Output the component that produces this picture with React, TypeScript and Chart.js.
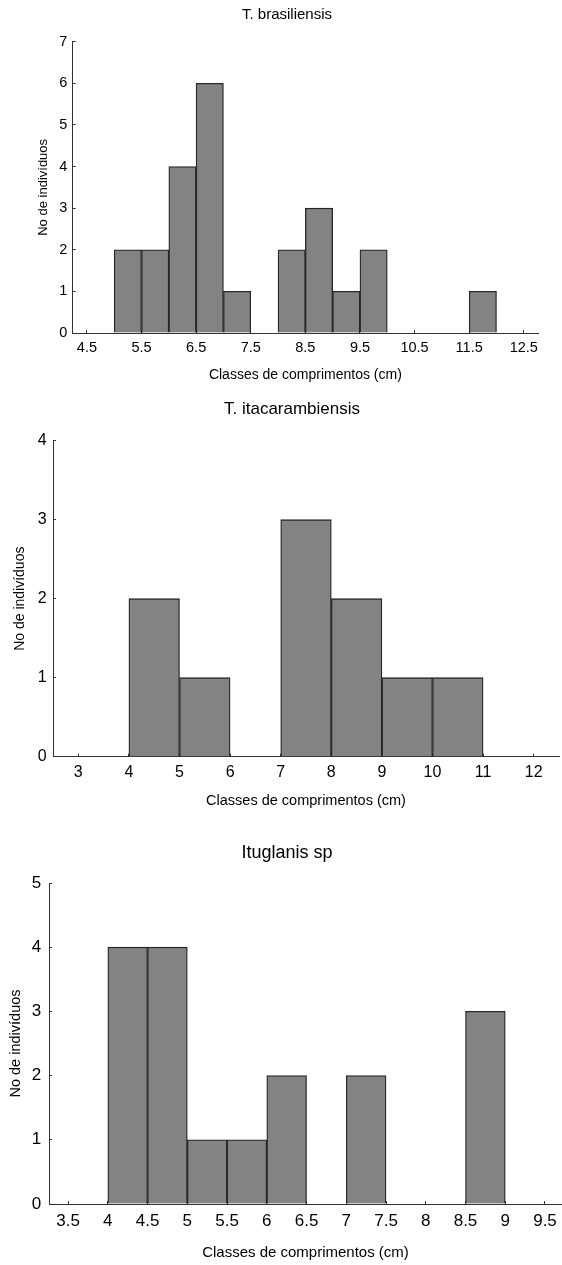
import React, { useEffect, useRef } from "react";
import { Chart, registerables } from "chart.js";

Chart.register(...registerables);

const FONT = "'Liberation Sans', Arial, Helvetica, sans-serif";

// ---- data ----
const X_TITLE = "Classes de comprimentos (cm)";
const Y_TITLE = "No de indivíduos";

const BRAS_TITLE = "T. brasiliensis";
const BRAS_BIN_MIDS = [5.25, 5.75, 6.25, 6.75, 7.25, 7.75, 8.25, 8.75, 9.25, 9.75, 10.25, 10.75, 11.25, 11.75];
const BRAS_COUNTS = [2, 2, 4, 6, 1, 0, 2, 3, 1, 2, 0, 0, 0, 1];
const BRAS_X_TICKS = [4.5, 5.5, 6.5, 7.5, 8.5, 9.5, 10.5, 11.5, 12.5];
const BRAS_Y_MAX = 7;

const ITAC_TITLE = "T. itacarambiensis";
const ITAC_BIN_MIDS = [4.5, 5.5, 6.5, 7.5, 8.5, 9.5, 10.5];
const ITAC_COUNTS = [2, 1, 0, 3, 2, 1, 1];
const ITAC_X_TICKS = [3, 4, 5, 6, 7, 8, 9, 10, 11, 12];
const ITAC_Y_MAX = 4;

const ITUG_TITLE = "Ituglanis sp";
const ITUG_BIN_MIDS = [4.25, 4.75, 5.25, 5.75, 6.25, 6.75, 7.25, 7.75, 8.25, 8.75];
const ITUG_COUNTS = [4, 4, 1, 1, 2, 0, 2, 0, 0, 3];
const ITUG_X_TICKS = [3.5, 4, 4.5, 5, 5.5, 6, 6.5, 7, 7.5, 8, 8.5, 9, 9.5];
const ITUG_Y_MAX = 5;

// ---- styles ----
const BAR_FILL = "#838383";
const BAR_EDGE = "#262626";
const AXIS_COLOR = "#333333";
const TEXT_COLOR = "#000000";
const TICK_LEN = -3; // inward tick marks

type Spec = {
  title: string;
  mids: number[];
  counts: number[];
  xTicks: number[];
  yMax: number;
  top: number;
  height: number;
  xMin: number;
  xMax: number;
  padL: number;
  yWidth: number;
  rightW: number;
  xHeight: number;
  titleSize: number;
  titlePadTop: number;
  titlePadBottom: number;
  tickSize: number;
  xTickPad: number;
  yTickPad: number;
  xTitleSize: number;
  xTitlePadBottom: number;
  yTitleSize: number;
  yTitlePadTop: number;
};

const SPECS: Spec[] = [
  {
    title: BRAS_TITLE, mids: BRAS_BIN_MIDS, counts: BRAS_COUNTS, xTicks: BRAS_X_TICKS, yMax: BRAS_Y_MAX,
    top: 0, height: 385, xMin: 4.24, xMax: 12.76, padL: 12, yWidth: 60.7, rightW: 24, xHeight: 52,
    titleSize: 15, titlePadTop: 6, titlePadBottom: 17.7,
    tickSize: 14.5, xTickPad: 5.8, yTickPad: 5.4,
    xTitleSize: 14, xTitlePadBottom: 1.6, yTitleSize: 13, yTitlePadTop: 23.2,
  },
  {
    title: ITAC_TITLE, mids: ITAC_BIN_MIDS, counts: ITAC_COUNTS, xTicks: ITAC_X_TICKS, yMax: ITAC_Y_MAX,
    top: 385, height: 432, xMin: 2.5, xMax: 12.5, padL: 22, yWidth: 31, rightW: 3, xHeight: 60.3,
    titleSize: 17, titlePadTop: 13.8, titlePadBottom: 21.5,
    tickSize: 16, xTickPad: 6.7, yTickPad: 6.4,
    xTitleSize: 14.5, xTitlePadBottom: 7.3, yTitleSize: 14, yTitlePadTop: -9.9,
  },
  {
    title: ITUG_TITLE, mids: ITUG_BIN_MIDS, counts: ITUG_COUNTS, xTicks: ITUG_X_TICKS, yMax: ITUG_Y_MAX,
    top: 820, height: 445, xMin: 3.26, xMax: 9.714, padL: 12, yWidth: 37, rightW: 0, xHeight: 61,
    titleSize: 18, titlePadTop: 22.2, titlePadBottom: 19.2,
    tickSize: 17, xTickPad: 6.8, yTickPad: 7.8,
    xTitleSize: 15, xTitlePadBottom: 3, yTitleSize: 14.5, yTitlePadTop: -4.7,
  },
];

function buildConfig(s: Spec): any {
  const tickGrid = {
    display: true,
    offset: false,
    drawOnChartArea: false,
    drawTicks: true,
    tickLength: TICK_LEN,
    tickWidth: 1,
    tickColor: AXIS_COLOR,
    color: AXIS_COLOR,
  };
  return {
    type: "bar",
    data: {
      datasets: [
        {
          data: s.mids.map((m, i) => ({ x: m, y: s.counts[i] })),
          backgroundColor: BAR_FILL,
          borderColor: BAR_EDGE,
          borderWidth: 1.3,
          borderSkipped: "start",
          barPercentage: 1,
          categoryPercentage: 1,
          xAxisID: "x",
          yAxisID: "y",
        },
      ],
    },
    options: {
      responsive: false,
      maintainAspectRatio: false,
      animation: false,
      devicePixelRatio: 1,
      layout: { padding: { left: s.padL, right: 0, top: 0, bottom: 0 } },
      plugins: {
        legend: { display: false },
        tooltip: { enabled: false },
        title: {
          display: true,
          text: s.title,
          color: TEXT_COLOR,
          font: { family: FONT, size: s.titleSize, weight: "normal", lineHeight: 1.2 },
          padding: { top: s.titlePadTop, bottom: s.titlePadBottom },
        },
      },
      scales: {
        x: {
          type: "linear",
          position: "bottom",
          min: s.xMin,
          max: s.xMax,
          offset: false,
          grid: tickGrid,
          border: { display: true, color: AXIS_COLOR, width: 1 },
          afterBuildTicks: (sc: any) => {
            sc.ticks = s.xTicks.map((v) => ({ value: v }));
          },
          ticks: {
            autoSkip: false,
            maxRotation: 0,
            minRotation: 0,
            padding: s.xTickPad - TICK_LEN,
            color: TEXT_COLOR,
            font: { family: FONT, size: s.tickSize, lineHeight: 1.2 },
            callback: (v: any) => String(v),
          },
          title: {
            display: true,
            text: X_TITLE,
            color: TEXT_COLOR,
            font: { family: FONT, size: s.xTitleSize, lineHeight: 1.2 },
            padding: { top: 0, bottom: s.xTitlePadBottom },
          },
          afterFit: (sc: any) => {
            sc.height = s.xHeight;
            sc.paddingLeft = 0;
            sc.paddingRight = 0;
          },
        },
        y: {
          type: "linear",
          position: "left",
          min: 0,
          max: s.yMax,
          grid: tickGrid,
          border: { display: true, color: AXIS_COLOR, width: 1 },
          ticks: {
            stepSize: 1,
            padding: s.yTickPad - TICK_LEN,
            color: TEXT_COLOR,
            font: { family: FONT, size: s.tickSize, lineHeight: 1.2 },
          },
          title: {
            display: true,
            text: Y_TITLE,
            color: TEXT_COLOR,
            font: { family: FONT, size: s.yTitleSize, lineHeight: 1.2 },
            padding: { top: s.yTitlePadTop, bottom: 0 },
          },
          afterFit: (sc: any) => {
            sc.width = s.yWidth;
            sc.paddingTop = 0;
            sc.paddingBottom = 0;
          },
        },
        yRight: {
          type: "linear",
          axis: "y",
          position: "right",
          display: true,
          grid: { display: false, drawTicks: false },
          border: { display: false },
          ticks: { display: false },
          afterFit: (sc: any) => {
            sc.width = s.rightW;
            sc.paddingTop = 0;
            sc.paddingBottom = 0;
          },
        },
      },
    },
  };
}

function Histogram({ spec }: { spec: Spec }) {
  const ref = useRef<HTMLCanvasElement | null>(null);
  useEffect(() => {
    if (!ref.current) return;
    const chart = new Chart(ref.current, buildConfig(spec));
    return () => chart.destroy();
  }, [spec]);
  return (
    <div style={{ position: "absolute", left: 0, top: spec.top, width: 562, height: spec.height }}>
      <canvas ref={ref} width={562} height={spec.height} style={{ display: "block", width: 562, height: spec.height }} />
    </div>
  );
}

export default function App() {
  return (
    <div style={{ position: "absolute", left: 0, top: 0, width: 562, height: 1265, background: "#fff", overflow: "hidden" }}>
      {SPECS.map((s, i) => (
        <Histogram key={i} spec={s} />
      ))}
    </div>
  );
}
